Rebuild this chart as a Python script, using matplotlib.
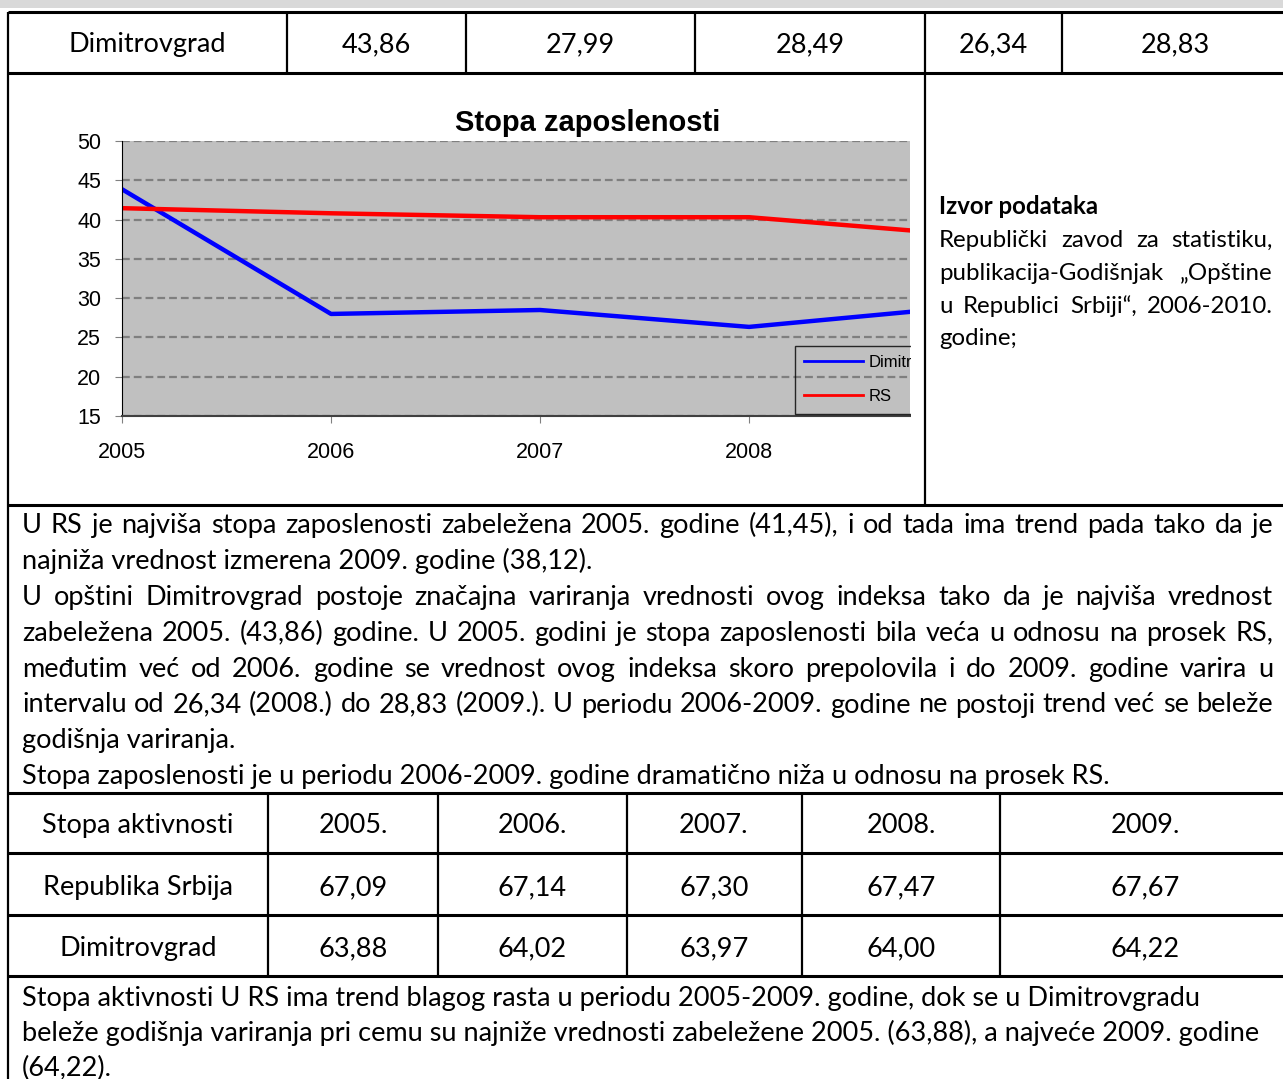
import numpy as np
import matplotlib
matplotlib.use("Agg")
import matplotlib.pyplot as plt
from matplotlib.patches import Rectangle

# data read from the page
years = [2005, 2006, 2007, 2008, 2009]
dimitrovgrad_zap = [43.86, 27.99, 28.49, 26.34, 28.83]
rs_zap = [41.45, 40.8, 40.3, 40.3, 38.12]

akt_header = ["Stopa aktivnosti", "2005.", "2006.", "2007.", "2008.", "2009."]
rs_akt = [67.09, 67.14, 67.30, 67.47, 67.67]
dim_akt = [63.88, 64.02, 63.97, 64.00, 64.22]

text_zap = [
    ("U RS je najviša stopa zaposlenosti zabeležena 2005. godine (41,45), i od tada ima trend pada tako da je", True),
    ("najniža vrednost izmerena 2009. godine (38,12).", False),
    ("U opštini Dimitrovgrad postoje značajna variranja vrednosti ovog indeksa tako da je najviša vrednost", True),
    ("zabeležena 2005. (43,86) godine. U 2005. godini je stopa zaposlenosti bila veća u odnosu na prosek RS,", True),
    ("međutim već od 2006. godine se vrednost ovog indeksa skoro prepolovila i do 2009. godine varira u", True),
    ("intervalu od 26,34 (2008.) do 28,83 (2009.). U periodu 2006-2009. godine ne postoji trend već se beleže", True),
    ("godišnja variranja.", False),
    ("Stopa zaposlenosti je u periodu 2006-2009. godine dramatično niža u odnosu na prosek RS.", False),
]
text_akt = [
    "Stopa aktivnosti U RS ima trend blagog rasta u periodu 2005-2009. godine, dok se u Dimitrovgradu",
    "beleže godišnja variranja pri cemu su najniže vrednosti zabeležene 2005. (63,88), a najveće 2009. godine",
    "(64,22).",
]
izvor_title = "Izvor podataka"
izvor_lines = [
    ("Republički zavod za statistiku,", True),
    ("publikacija-Godišnjak „Opštine", True),
    ("u Republici Srbiji“, 2006-2010.", True),
    ("godine;", False),
]

W, H = 1283, 1079
BODY = "Lato"
FS = 19.5


def fmt(v):
    return ("%.2f" % v).replace(".", ",")


fig = plt.figure(figsize=(W / 100, H / 100), dpi=100)
fig.patch.set_facecolor("white")

# chart
ax = fig.add_axes([122 / W, 1 - 416 / H, 788 / W, 275 / H], zorder=1)
ax.set_facecolor("#C0C0C0")
ax.plot(years, dimitrovgrad_zap, color="#0000FF", lw=3.2, label="Dimitrovgrad")
ax.plot(years, rs_zap, color="#FF0000", lw=3.2, label="RS")
ax.set_xlim(2005, 2008.77)
ax.set_ylim(15, 50)
ax.set_yticks(np.arange(15, 51, 5))
ax.set_xticks(years[:4])
ax.yaxis.grid(True, color="#7F7F7F", ls=(0, (3.5, 1.8)), lw=1.6)
ax.set_axisbelow(True)
for s in ["top", "right"]:
    ax.spines[s].set_visible(False)
ax.spines["left"].set_color("black")
ax.spines["left"].set_linewidth(0.8)
ax.spines["bottom"].set_color("#404040")
ax.spines["bottom"].set_linewidth(1.5)
ax.tick_params(axis="y", length=5, pad=10, color="#808080", labelsize=15.5)
ax.tick_params(axis="x", length=5, pad=14, color="#808080", labelsize=15.5)
for lab in ax.get_xticklabels() + ax.get_yticklabels():
    lab.set_fontfamily("Liberation Sans")
ax.set_title("Stopa zaposlenosti", fontfamily="Liberation Sans", fontweight="bold",
             fontsize=21, x=(588 - 122) / 788, y=(416 - 131) / 275, pad=0)
leg = ax.legend(loc="upper left", bbox_to_anchor=(795 / W, 1 - 346 / H),
                bbox_transform=fig.transFigure, borderaxespad=0, frameon=True,
                prop={"family": "Liberation Sans", "size": 12},
                handlelength=3.5, handletextpad=0.35, labelspacing=1.15, borderpad=0.55)
leg.get_frame().set_facecolor("none")
leg.get_frame().set_edgecolor("black")
leg.get_frame().set_linewidth(1)
leg.get_frame().set_boxstyle("square", pad=0)
for h in leg.get_lines():
    h.set_linewidth(2)

# white block that cuts the chart off at its right edge
fig.patches.append(Rectangle((911 / W, 1 - 503 / H), (W - 911) / W, 428 / H,
                             transform=fig.transFigure, facecolor="white",
                             edgecolor="none", zorder=5))

# page layer: borders and text in pixel coordinates
bg = fig.add_axes([0, 0, 1, 1], zorder=10)
bg.set_xlim(0, W)
bg.set_ylim(H, 0)
bg.axis("off")
bg.patch.set_visible(False)

bg.add_patch(Rectangle((0, 0), W, 8, facecolor="#D9D9D9", edgecolor="none"))

HL = 2.2
VL = 1.6


def hline(y, x0=8, x1=W):
    bg.plot([x0, x1], [y, y], color="black", lw=HL, solid_capstyle="butt")


def vline(x, y0, y1):
    bg.plot([x, x], [y0, y1], color="black", lw=VL, solid_capstyle="butt")


# top table row
hline(12)
hline(73)
vline(8, 12, H)
for x in [287, 466, 695, 925, 1062]:
    vline(x, 12, 73)
vline(925, 73, 505)
hline(505)
cells1 = [(147, "Dimitrovgrad")] + list(zip([376, 580, 810, 993, 1175], [fmt(v) for v in dimitrovgrad_zap]))
for cx, s in cells1:
    bg.text(cx, 52, s, ha="center", va="baseline", fontsize=FS, fontfamily=BODY)

# second table
for y in [793, 853, 915, 976]:
    hline(y)
for x in [268, 438, 627, 802, 1000]:
    vline(x, 793, 976)
centers = [138, 353, 532, 714, 901, 1145]
row_texts = [akt_header,
             ["Republika Srbija"] + [fmt(v) for v in rs_akt],
             ["Dimitrovgrad"] + [fmt(v) for v in dim_akt]]
for ry, row in zip([833, 895, 956], row_texts):
    for cx, s in zip(centers, row):
        bg.text(cx, ry, s, ha="center", va="baseline", fontsize=FS, fontfamily=BODY)

renderer = fig.canvas.get_renderer()


def put_line(s, x0, y, x1, justify, **kw):
    if not justify:
        bg.text(x0, y, s, ha="left", va="baseline", **kw)
        return
    words = s.split(" ")
    txts = [bg.text(0, y, w, ha="left", va="baseline", **kw) for w in words]
    widths = [t.get_window_extent(renderer).width for t in txts]
    gap = (x1 - x0 - sum(widths)) / (len(words) - 1)
    x = x0
    for t, w in zip(txts, widths):
        t.set_x(x)
        x += w + gap


for i, (s, j) in enumerate(text_zap):
    put_line(s, 22, 533 + i * 35.9, 1273, j, fontsize=FS, fontfamily=BODY)

for i, s in enumerate(text_akt):
    put_line(s, 22, 1006 + i * 35, 1273, False, fontsize=FS, fontfamily=BODY)

bg.text(939, 214, izvor_title, ha="left", va="baseline", fontsize=17.3,
        fontfamily=BODY, fontweight="bold")
for i, (s, j) in enumerate(izvor_lines):
    put_line(s, 939, 247 + i * 32.8, 1273, j, fontsize=17.3, fontfamily=BODY)

fig.savefig("out.png", dpi=100)
